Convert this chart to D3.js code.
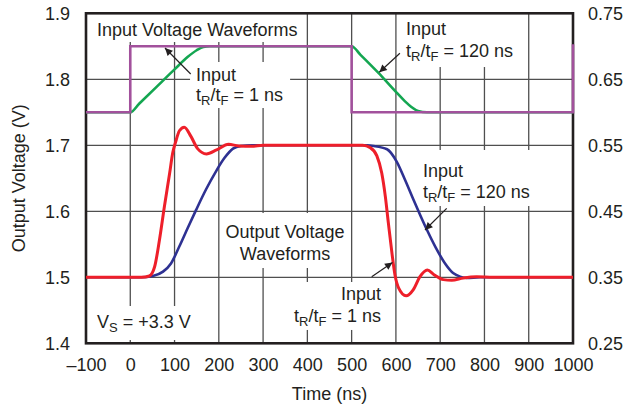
<!DOCTYPE html>
<html>
<head>
<meta charset="utf-8">
<script src="https://cdn.jsdelivr.net/npm/d3@7"></script>
<style>
  html, body { margin: 0; padding: 0; background: #fff; }
  svg { display: block; font-family: "Liberation Sans", Arial, Helvetica, sans-serif; }
</style>
</head>
<body>
<svg id="chart" width="628" height="411"></svg>
<script>
// ---------------- data ----------------
const xTicks = [-100, 0, 100, 200, 300, 400, 500, 600, 700, 800, 900, 1000];
const xTickLabels = ["\u2013100", "0", "100", "200", "300", "400", "500", "600", "700", "800", "900", "1000"];
const yTicks = [1.4, 1.5, 1.6, 1.7, 1.8, 1.9];
const yTickLabels = ["1.4", "1.5", "1.6", "1.7", "1.8", "1.9"];
const yRightTicks = [0.25, 0.35, 0.45, 0.55, 0.65, 0.75];
const yRightLabels = ["0.25", "0.35", "0.45", "0.55", "0.65", "0.75"];

// input, tR/tF = 1 ns (purple step)
const inputFast = [[-100, 1.75], [0, 1.75], [0, 1.85], [500, 1.85], [500, 1.75], [1000, 1.75], [1000, 1.853]];
// input, tR/tF = 120 ns (green ramp)
const inputSlow = [[-100, 1.75], [0, 1.75], [20, 1.763], [60, 1.789], [100, 1.815], [130, 1.834], [150, 1.844],
  [165, 1.849], [180, 1.85], [500, 1.85], [520, 1.837], [560, 1.81], [600, 1.781], [620, 1.767], [635, 1.758],
  [650, 1.752], [670, 1.75], [1000, 1.75]];
// output, tR/tF = 1 ns (red)
const outputFast = [[-100, 1.5], [25, 1.5], [43, 1.502], [55, 1.516], [66, 1.557], [77, 1.607], [89, 1.658],
  [96, 1.689], [102, 1.704], [111, 1.722], [122, 1.7275], [137, 1.7135], [152, 1.695], [172, 1.687],
  [195, 1.693], [222, 1.7015], [245, 1.699], [275, 1.6985], [300, 1.7], [525, 1.7], [542, 1.6965],
  [557, 1.684], [568, 1.658], [576, 1.623], [583, 1.582], [591, 1.537], [598, 1.503], [606, 1.484],
  [623, 1.472], [639, 1.481], [654, 1.5005], [671, 1.511], [686, 1.504], [707, 1.4965], [726, 1.4955],
  [752, 1.499], [782, 1.501], [820, 1.5], [1000, 1.5]];
// output, tR/tF = 120 ns (blue)
const outputSlow = [[-100, 1.5], [25, 1.5], [51, 1.502], [74, 1.5086], [92, 1.521], [111, 1.547], [130, 1.575],
  [149, 1.6025], [171, 1.633], [194, 1.661], [213, 1.681], [232, 1.695], [250, 1.699], [275, 1.7],
  [535, 1.7], [550, 1.699], [580, 1.694], [602, 1.675], [621, 1.647], [640, 1.617], [655, 1.594],
  [670, 1.572], [690, 1.545], [711, 1.521], [730, 1.506], [745, 1.501], [760, 1.499], [790, 1.5], [1000, 1.5]];

// annotation boxes (white masks) in data units: [t0, t1, v0, v1]
const maskBoxes = [[-86.4, 390, 1.8565, 1.9], [135, 361, 1.7565, 1.8262], [609, 871, 1.8186, 1.899],
  [647.6, 914, 1.608, 1.6929], [356.3, 577.6, 1.4202, 1.4929], [207.2, 496.3, 1.5141, 1.5974],
  [-86.4, 148.5, 1.405, 1.4565]];

// ---------------- layout ----------------
const svg = d3.select("#chart");
const pL = 86, pR = 573, pT = 13.3, pB = 343.3;
const x = d3.scaleLinear().domain([-100, 1000]).range([pL, pR]);
const y = d3.scaleLinear().domain([1.4, 1.9]).range([pB, pT]);
const yR = d3.scaleLinear().domain([0.25, 0.75]).range([pB, pT]);

const textColor = "#231f20";
const fs = 18;

// grid
const grid = svg.append("g");
grid.selectAll("line.v").data(xTicks.slice(1, -1)).enter().append("line")
  .attr("x1", d => x(d)).attr("x2", d => x(d)).attr("y1", pT).attr("y2", pB)
  .attr("stroke", "#4f4f4f").attr("stroke-width", 1.3);
grid.selectAll("line.h").data(yTicks.slice(1, -1)).enter().append("line")
  .attr("x1", pL).attr("x2", pR).attr("y1", d => y(d)).attr("y2", d => y(d))
  .attr("stroke", "#4f4f4f").attr("stroke-width", 1.3);

// masks
svg.append("g").selectAll("rect").data(maskBoxes).enter().append("rect")
  .attr("x", d => x(d[0])).attr("width", d => x(d[1]) - x(d[0]))
  .attr("y", d => y(d[3])).attr("height", d => y(d[2]) - y(d[3]))
  .attr("fill", "#fff");

// frame
svg.append("rect").attr("x", pL).attr("y", pT).attr("width", pR - pL).attr("height", pB - pT)
  .attr("fill", "none").attr("stroke", textColor).attr("stroke-width", 2.6);

// axes (labels only, via d3 axes)
const xAxis = d3.axisBottom(x).tickValues(xTicks).tickSize(0).tickPadding(0)
  .tickFormat((d, i) => xTickLabels[i]);
const gx = svg.append("g").attr("transform", `translate(0,${pB})`).call(xAxis);
gx.select(".domain").remove();
gx.selectAll("text").attr("y", 27.5).attr("dy", null).attr("font-size", fs).attr("fill", textColor)
  .attr("font-family", "Liberation Sans, Arial, sans-serif");

const yAxisL = d3.axisLeft(y).tickValues(yTicks).tickSize(0).tickPadding(16)
  .tickFormat((d, i) => yTickLabels[i]);
const gy = svg.append("g").attr("transform", `translate(${pL},0)`).call(yAxisL);
gy.select(".domain").remove();
gy.selectAll("text").attr("font-size", fs).attr("fill", textColor).attr("font-family", "Liberation Sans, Arial, sans-serif");

const yAxisR = d3.axisRight(yR).tickValues(yRightTicks).tickSize(0).tickPadding(15)
  .tickFormat((d, i) => yRightLabels[i]);
const gyr = svg.append("g").attr("transform", `translate(${pR},0)`).call(yAxisR);
gyr.select(".domain").remove();
gyr.selectAll("text").attr("font-size", fs).attr("fill", textColor).attr("font-family", "Liberation Sans, Arial, sans-serif");

// axis titles
svg.append("text").attr("x", (pL + pR) / 2).attr("y", 400).attr("text-anchor", "middle")
  .attr("font-size", fs).attr("fill", textColor).text("Time (ns)");
svg.append("text").attr("transform", `translate(24.5,${(pT + pB) / 2}) rotate(-90)`)
  .attr("text-anchor", "middle").attr("font-size", fs).attr("fill", textColor).text("Output Voltage (V)");

// curves
const line = d3.line().x(d => x(d[0])).y(d => y(d[1]));
const smooth = d3.line().x(d => x(d[0])).y(d => y(d[1])).curve(d3.curveMonotoneX);
svg.append("path").datum(inputSlow).attr("d", smooth).attr("fill", "none")
  .attr("stroke", "#14a651").attr("stroke-width", 2.6);
svg.append("path").datum(inputFast).attr("d", line).attr("fill", "none")
  .attr("stroke", "#a2519c").attr("stroke-width", 2.6);
svg.append("path").datum(outputSlow).attr("d", smooth).attr("fill", "none")
  .attr("stroke", "#2e3192").attr("stroke-width", 2.6);
svg.append("path").datum(outputFast).attr("d", smooth).attr("fill", "none")
  .attr("stroke", "#ee1f2a").attr("stroke-width", 3);

// annotations
function rich(px, py, parts, anchor) {
  const t = svg.append("text").attr("x", px).attr("y", py).attr("font-size", fs)
    .attr("fill", textColor).attr("text-anchor", anchor || "start");
  parts.forEach(p => {
    if (p.sub) {
      t.append("tspan").attr("font-size", 13).attr("dy", 4).text(p.t);
    } else {
      t.append("tspan").attr("dy", p.after ? -4 : 0).text(p.t);
    }
  });
  return t;
}
function trtf(val) {
  return [{t: "t"}, {t: "R", sub: true}, {t: "/t", after: true}, {t: "F", sub: true}, {t: " = " + val + " ns", after: true}];
}
function plain(px, py, s, anchor) {
  svg.append("text").attr("x", px).attr("y", py).attr("font-size", fs).attr("fill", textColor)
    .attr("text-anchor", anchor || "start").text(s);
}

plain(x(-75), y(1.8656), "Input Voltage Waveforms");
plain(x(148.5), y(1.7974), "Input");
rich(x(148.5), y(1.7671), trtf("1"));
plain(x(622.8), y(1.8671), "Input");
rich(x(622.8), y(1.8338), trtf("120"));
plain(x(661), y(1.652), "Input");
rich(x(661), y(1.6202), trtf("120"));
plain(x(566.3), y(1.4656), "Input", "end");
rich(x(566.3), y(1.4323), trtf("1"), "end");
plain(x(349.5), y(1.5595), "Output Voltage", "middle");
plain(x(349.5), y(1.5262), "Waveforms", "middle");
rich(x(-75), y(1.4232), [{t: "V"}, {t: "S", sub: true}, {t: " = +3.3 V", after: true}]);

// arrows: [tail t, tail v, tip t, tip v]
const arrows = [[136.5, 1.808, 78.4, 1.8474], [609, 1.8394, 562.5, 1.8106],
  [714.7, 1.6045, 665.7, 1.5717], [545.3, 1.5009, 592.3, 1.5224]];
const defs = svg.append("defs");
defs.append("marker").attr("id", "ah").attr("viewBox", "0 0 10 10").attr("refX", 10).attr("refY", 5)
  .attr("markerWidth", 11).attr("markerHeight", 7.5).attr("markerUnits", "userSpaceOnUse").attr("orient", "auto")
  .append("path").attr("d", "M0,0 L10,5 L0,10 z").attr("fill", textColor);
svg.append("g").selectAll("line").data(arrows).enter().append("line")
  .attr("x1", d => x(d[0])).attr("y1", d => y(d[1])).attr("x2", d => x(d[2])).attr("y2", d => y(d[3]))
  .attr("stroke", textColor).attr("stroke-width", 1.2).attr("marker-end", "url(#ah)");
</script>
</body>
</html>
